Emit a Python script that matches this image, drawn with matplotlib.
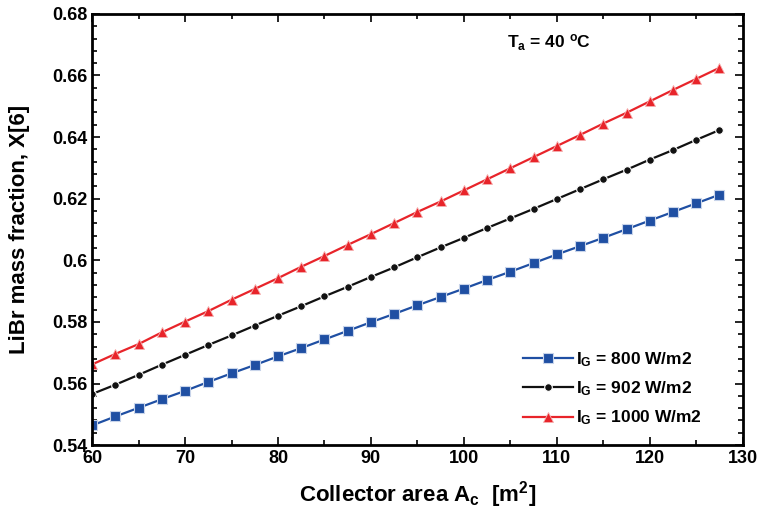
import matplotlib.pyplot as plt
from matplotlib.ticker import MultipleLocator

plt.rcParams['font.family'] = ['Liberation Sans', 'DejaVu Sans']
plt.rcParams['font.weight'] = 'bold'
plt.rcParams['mathtext.fontset'] = 'custom'
plt.rcParams['mathtext.rm'] = 'Liberation Sans:bold'
plt.rcParams['mathtext.it'] = 'Liberation Sans:bold'
plt.rcParams['mathtext.bf'] = 'Liberation Sans:bold'

area = [60, 62.5, 65, 67.5, 70, 72.5, 75, 77.5, 80, 82.5, 85, 87.5, 90, 92.5,
        95, 97.5, 100, 102.5, 105, 107.5, 110, 112.5, 115, 117.5, 120, 122.5, 125, 127.5]

x_800 = [0.5464, 0.5493, 0.5521, 0.5549, 0.5576, 0.5605, 0.5633, 0.5660, 0.5688, 0.5715,
         0.5743, 0.5771, 0.5799, 0.5826, 0.5854, 0.5881, 0.5908, 0.5936, 0.5963, 0.5991,
         0.6019, 0.6046, 0.6073, 0.6101, 0.6129, 0.6157, 0.6185, 0.6213]
x_902 = [0.5566, 0.5596, 0.5628, 0.5661, 0.5693, 0.5725, 0.5756, 0.5788, 0.5820, 0.5851,
         0.5883, 0.5914, 0.5946, 0.5977, 0.6010, 0.6042, 0.6073, 0.6105, 0.6136, 0.6167,
         0.6199, 0.6231, 0.6263, 0.6294, 0.6327, 0.6358, 0.6391, 0.6423]
x_1000 = [0.5662, 0.5696, 0.5728, 0.5766, 0.5801, 0.5835, 0.5872, 0.5907, 0.5942, 0.5979,
          0.6014, 0.6050, 0.6085, 0.6121, 0.6157, 0.6191, 0.6227, 0.6263, 0.6299, 0.6335,
          0.6371, 0.6407, 0.6444, 0.6479, 0.6516, 0.6553, 0.6589, 0.6625]

labels = [r'I$_\mathregular{G}$ = 800 W/m2', r'I$_\mathregular{G}$ = 902 W/m2',
          r'I$_\mathregular{G}$ = 1000 W/m2']

fig = plt.figure(figsize=(7.61, 5.14), dpi=100)
ax = fig.add_axes([0.121, 0.134, 0.855, 0.839])

ax.plot(area, x_800, color='#1f4fa3', marker='s', markersize=6.5, lw=1.6,
        markeredgecolor='#c8d4ea', markeredgewidth=0.8, label=labels[0])
ax.plot(area, x_902, color='#111111', marker='o', markersize=5.5, lw=1.6,
        markeredgecolor='white', markeredgewidth=0.8, label=labels[1])
ax.plot(area, x_1000, color='#e8242a', marker='^', markersize=7, lw=1.6,
        markeredgecolor='#f6b0b0', markeredgewidth=0.6, label=labels[2])

ax.set_xlim(60, 130)
ax.set_ylim(0.54, 0.68)
ax.xaxis.set_major_locator(MultipleLocator(10))
ax.xaxis.set_minor_locator(MultipleLocator(5))
ax.yaxis.set_major_locator(MultipleLocator(0.02))
ax.yaxis.set_minor_locator(MultipleLocator(0.004))
ax.set_yticks([0.54, 0.56, 0.58, 0.6, 0.62, 0.64, 0.66, 0.68])
ax.set_yticklabels(['0.54', '0.56', '0.58', '0.6', '0.62', '0.64', '0.66', '0.68'])
ax.tick_params(which='both', direction='in', top=True, right=True, labelsize=13, width=1.2)
ax.tick_params(which='major', length=6)
ax.tick_params(which='minor', length=3.5)
for s in ax.spines.values():
    s.set_linewidth(2)

ax.set_xlabel(r'Collector area A$_\mathregular{c}$  [m$^\mathregular{2}$]', fontsize=16,
              fontweight='bold', labelpad=9)
ax.set_ylabel('LiBr mass fraction, X[6]', fontsize=16, fontweight='bold', labelpad=16)

ax.text(109.2, 0.6706, r'T$_\mathregular{a}$ = 40 $^\mathregular{o}$C', fontsize=12.5,
        fontweight='bold', ha='center', va='center')

ax.legend(loc='lower left', bbox_to_anchor=(0.638, 0.005), frameon=False, fontsize=12.5,
          handlelength=2.9, handletextpad=0.15, labelspacing=0.6)

fig.savefig('out.png', dpi=100)
